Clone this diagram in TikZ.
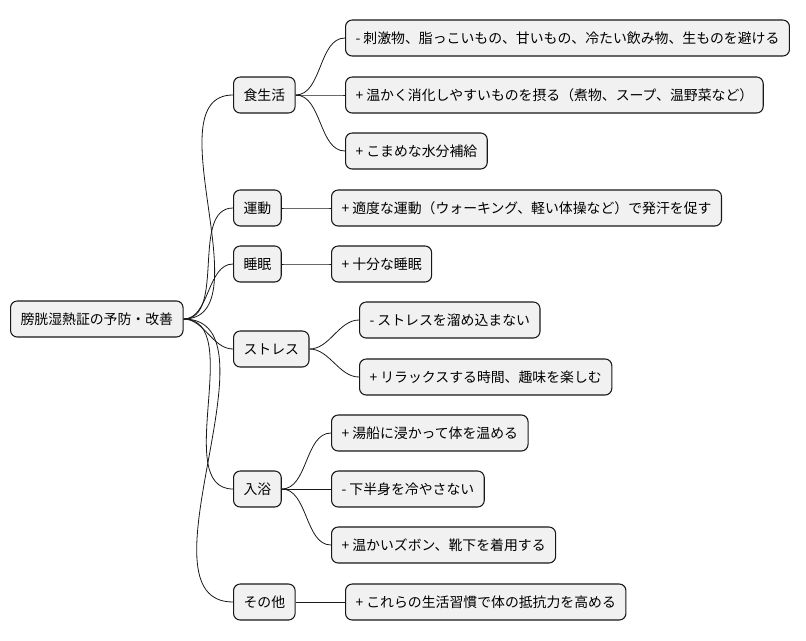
\documentclass[tikz,border=0pt]{standalone}
\usepackage{fontspec}
\setmainfont{Noto Sans CJK JP}
\definecolor{boxGray}{RGB}{241,241,241}
\definecolor{lineDark}{RGB}{24,24,24}
\tikzset{
  topic/.style={draw=lineDark, rounded corners=5pt, fill=boxGray, line width=0.8pt,
    anchor=west, minimum height=27pt, inner xsep=7.5pt, font=\fontsize{10.4}{12}\selectfont},
  branch/.style={draw=lineDark, line width=0.6pt, out=0, in=180, looseness=0.9}
}
\begin{document}
\begin{tikzpicture}[x=0.75pt, y=-0.75pt]
\useasboundingbox (0,0) rectangle (806,640);
% root
\node[topic] (root) at (10,319) {膀胱湿熱証の予防・改善};
% first level
\node[topic] (food) at (233,95) {食生活};
\node[topic] (move) at (233,208) {運動};
\node[topic] (sleep) at (233,264) {睡眠};
\node[topic] (stress) at (233,349) {ストレス};
\node[topic] (bath) at (233,489) {入浴};
\node[topic] (other) at (233,602) {その他};
% leaves
\node[topic] (food1) at (345,38) {- 刺激物、脂っこいもの、甘いもの、冷たい飲み物、生ものを避ける};
\node[topic] (food2) at (345,95) {+ 温かく消化しやすいものを摂る（煮物、スープ、温野菜など）};
\node[topic] (food3) at (345,151) {+ こまめな水分補給};
\node[topic] (move1) at (331,208) {+ 適度な運動（ウォーキング、軽い体操など）で発汗を促す};
\node[topic] (sleep1) at (331,264) {+ 十分な睡眠};
\node[topic] (stress1) at (359,320) {- ストレスを溜め込まない};
\node[topic] (stress2) at (359,377) {+ リラックスする時間、趣味を楽しむ};
\node[topic] (bath1) at (331,433) {+ 湯船に浸かって体を温める};
\node[topic] (bath2) at (331,489) {- 下半身を冷やさない};
\node[topic] (bath3) at (331,545) {+ 温かいズボン、靴下を着用する};
\node[topic] (other1) at (345,602) {+ これらの生活習慣で体の抵抗力を高める};
% connectors
\foreach \c in {food,move,sleep,stress,bath,other}
  \draw[branch] (root.east) to (\c.west);
\foreach \c in {food1,food2,food3}
  \draw[branch] (food.east) to (\c.west);
\draw[branch] (move.east) to (move1.west);
\draw[branch] (sleep.east) to (sleep1.west);
\foreach \c in {stress1,stress2}
  \draw[branch] (stress.east) to (\c.west);
\foreach \c in {bath1,bath2,bath3}
  \draw[branch] (bath.east) to (\c.west);
\draw[branch] (other.east) to (other1.west);
\end{tikzpicture}
\end{document}
